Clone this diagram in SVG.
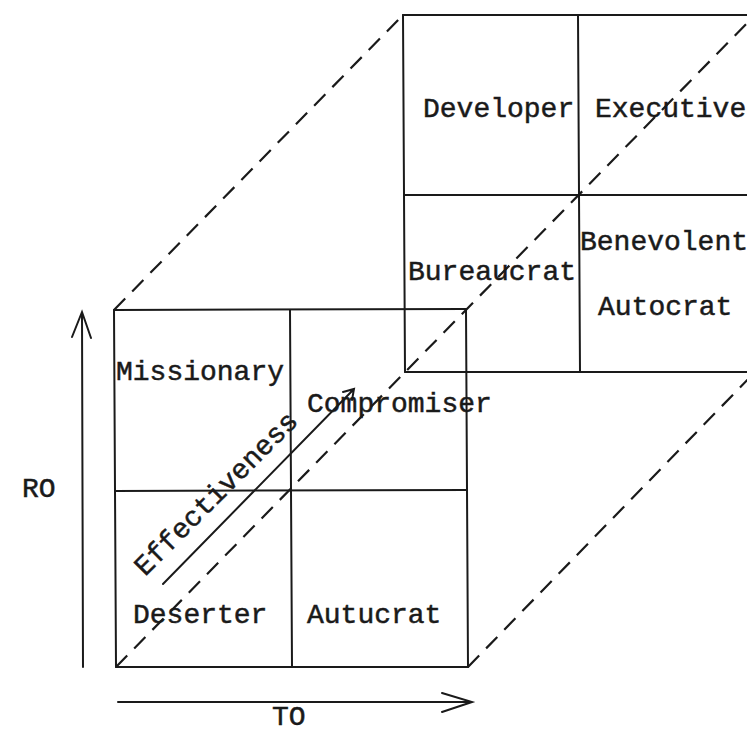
<svg xmlns="http://www.w3.org/2000/svg" width="747" height="737" viewBox="0 0 747 737">
<style>
  .ln { stroke: #1a1a1a; stroke-width: 2; fill: none; stroke-linecap: round; }
  .dash { stroke: #1a1a1a; stroke-width: 2.2; fill: none; stroke-dasharray: 16 10; }
  .t { font-family: "Liberation Mono", "DejaVu Sans Mono", monospace; font-size: 28px; fill: #1a1a1a; stroke: #1a1a1a; stroke-width: 0.5; }
</style>
<rect width="747" height="737" fill="#ffffff"/>

<g id="back-grid">
  <line class="ln" x1="403" y1="15" x2="760" y2="15"/>
  <line class="ln" x1="403" y1="15" x2="405" y2="372"/>
  <line class="ln" x1="404" y1="195" x2="760" y2="195"/>
  <line class="ln" x1="405" y1="372" x2="760" y2="372"/>
  <line class="ln" x1="578" y1="15" x2="580" y2="372"/>
</g>

<g id="front-grid">
  <line class="ln" x1="114" y1="310" x2="466" y2="309"/>
  <line class="ln" x1="114" y1="310" x2="116" y2="667"/>
  <line class="ln" x1="466" y1="309" x2="468" y2="667"/>
  <line class="ln" x1="116" y1="667" x2="468" y2="667"/>
  <line class="ln" x1="290" y1="310" x2="292" y2="667"/>
  <line class="ln" x1="115" y1="491" x2="467" y2="490"/>
</g>

<g id="connectors">
  <line class="dash" x1="114" y1="310" x2="403" y2="15"/>
  <line class="dash" x1="116" y1="667" x2="757" y2="13"/>
  <line class="dash" x1="468" y1="667" x2="757" y2="370"/>
  <path class="ln" d="M163,584 L354,389 M343,392 L354,389 L352,400"/>
  <path class="ln" d="M83,667 L82,312 M72,337 L82,312 L91,338"/>
  <path class="ln" d="M118,702 L472,702 M442,693 L472,702 L442,712"/>
</g>

<g id="node-missionary"><text class="t" x="116" y="380">Missionary</text></g>
<g id="node-compromiser"><text class="t" x="307" y="412">Compromiser</text></g>
<g id="node-deserter"><text class="t" x="133" y="623">Deserter</text></g>
<g id="node-autucrat"><text class="t" x="307" y="623">Autucrat</text></g>
<g id="node-developer"><text class="t" x="423" y="117">Developer</text></g>
<g id="node-executive"><text class="t" x="595" y="117">Executive</text></g>
<g id="node-bureaucrat"><text class="t" x="408" y="280">Bureaucrat</text></g>
<g id="node-benevolent"><text class="t" x="580" y="250">Benevolent</text><text class="t" x="598" y="315">Autocrat</text></g>
<g id="label-ro"><text class="t" x="22" y="497">RO</text></g>
<g id="label-to"><text class="t" x="272" y="725">TO</text></g>
<g id="label-effectiveness"><text class="t" transform="translate(145,577) rotate(-45)">Effectiveness</text></g>
</svg>
